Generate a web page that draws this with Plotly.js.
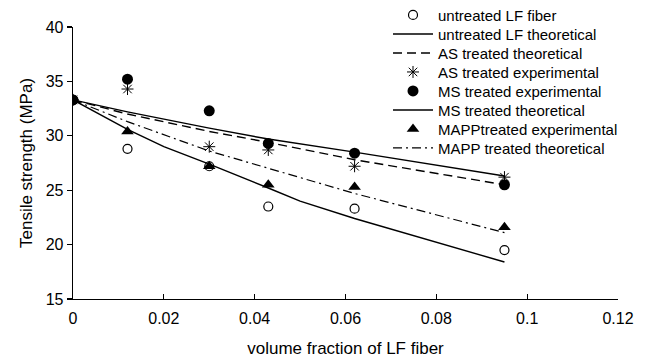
<!DOCTYPE html>
<html>
<head>
<meta charset="utf-8">
<script src="https://cdn.plot.ly/plotly-3.0.1.min.js"></script>
<style>html,body{margin:0;padding:0;background:#fff;}#chart{width:647px;height:360px;}</style>
</head>
<body>
<div id="chart"></div>
<script>
// Experimental volume fractions
const xExp = [0, 0.012, 0.030, 0.043, 0.062, 0.095];
const untreatedExp = [33.3, 28.8, 27.2, 23.5, 23.3, 19.5];
const asExp = [33.3, 34.3, 29.0, 28.7, 27.2, 26.2];
const msExp = [33.3, 35.2, 32.3, 29.3, 28.4, 25.5];
const mappExp = [33.3, 30.4, 27.2, 25.5, 25.3, 21.6];

// Theoretical curves
const xUntreatedTh = [0, 0.012, 0.020, 0.030, 0.043, 0.050, 0.062, 0.095];
const untreatedTh = [33.3, 30.6, 29.0, 27.4, 25.2, 24.0, 22.4, 18.4];
const xTh = [0, 0.012, 0.030, 0.043, 0.062, 0.095];
const asTh = [33.3, 32.0, 30.4, 29.4, 27.8, 25.5];
const msTh = [33.3, 32.2, 30.7, 29.7, 28.5, 26.3];
const mappTh = [33.3, 31.3, 28.6, 27.0, 24.7, 21.1];

const names = [
  'untreated LF fiber',
  'untreated LF theoretical',
  'AS treated theoretical',
  'AS treated experimental',
  'MS treated experimental',
  'MS treated theoretical',
  'MAPPtreated experimental',
  'MAPP treated theoretical'
];

const black = '#000000';
const traces = [
  {x: xExp, y: untreatedExp, name: names[0], mode: 'markers', type: 'scatter',
   marker: {symbol: 'circle-open', size: 9, color: black, line: {width: 1.2, color: black}}},
  {x: xUntreatedTh, y: untreatedTh, name: names[1], mode: 'lines', type: 'scatter',
   line: {color: black, width: 1.4}},
  {x: xTh, y: asTh, name: names[2], mode: 'lines', type: 'scatter',
   line: {color: black, width: 1.4, dash: '9px,5px'}},
  {x: xExp, y: asExp, name: names[3], mode: 'markers', type: 'scatter',
   marker: {symbol: 'asterisk-open', size: 10, color: black, line: {width: 1, color: black}}},
  {x: xExp, y: msExp, name: names[4], mode: 'markers', type: 'scatter',
   marker: {symbol: 'circle', size: 11, color: black}},
  {x: xTh, y: msTh, name: names[5], mode: 'lines', type: 'scatter',
   line: {color: black, width: 1.4}},
  {x: xExp, y: mappExp, name: names[6], mode: 'markers', type: 'scatter',
   marker: {symbol: 'triangle-up', size: 11, color: black}},
  {x: xTh, y: mappTh, name: names[7], mode: 'lines', type: 'scatter',
   line: {color: black, width: 1.2, dash: '9px,4px,2px,4px'}}
];

const layout = {
  width: 647, height: 360,
  margin: {l: 73, r: 29, t: 27, b: 61, autoexpand: false},
  paper_bgcolor: '#ffffff', plot_bgcolor: '#ffffff',
  font: {family: '"Liberation Sans", Arial, sans-serif', color: black},
  showlegend: true,
  legend: {
    x: 0.578, xanchor: 'left', y: 1.104, yanchor: 'top',
    bgcolor: 'rgba(0,0,0,0)', font: {size: 15, color: black},
    tracegroupgap: 0, itemwidth: 40
  },
  xaxis: {
    range: [0, 0.12], dtick: 0.02, tick0: 0,
    showgrid: false, zeroline: false,
    showline: true, linecolor: black, linewidth: 1.3,
    ticks: 'inside', ticklen: 5, tickcolor: black, tickwidth: 1.2,
    tickfont: {size: 16, color: black}, ticklabelstandoff: 4,
    title: {text: 'volume fraction of LF fiber', font: {size: 17, color: black}, standoff: 16}
  },
  yaxis: {
    range: [15, 40], dtick: 5, tick0: 15,
    showgrid: false, zeroline: false,
    showline: true, linecolor: black, linewidth: 1.3,
    ticks: 'outside', ticklen: 5, tickcolor: black, tickwidth: 1.2,
    tickfont: {size: 16, color: black},
    title: {text: 'Tensile strength (MPa)', font: {size: 17, color: black}, standoff: 8}
  }
};

Plotly.newPlot('chart', traces, layout, {displayModeBar: false, staticPlot: true}).then(function () {
  // tighten legend row spacing to match the reference
  const items = document.querySelectorAll('#chart .legend .traces');
  let y0 = null;
  items.forEach(function (el, i) {
    const t = el.getAttribute('transform') || '';
    const m = t.match(/translate\(([-\d.]+)[ ,]+([-\d.]+)\)/);
    if (!m) return;
    const x = parseFloat(m[1]);
    const y = parseFloat(m[2]);
    if (y0 === null) y0 = y;
    el.setAttribute('transform', 'translate(' + x + ',' + (y0 + i * 19) + ')');
  });
});
</script>
</body>
</html>
